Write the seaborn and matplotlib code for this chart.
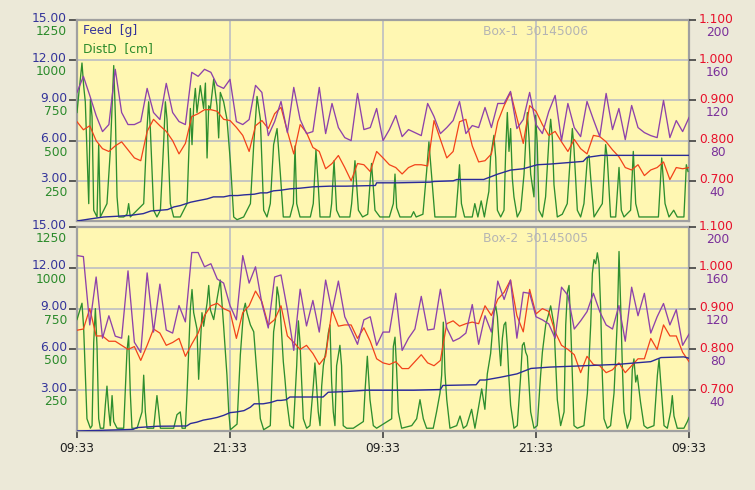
import numpy as np
import matplotlib
matplotlib.use('Agg')
import matplotlib.pyplot as plt
import matplotlib.transforms as mtrans
import seaborn as sns

plt.rcParams['font.family'] = ['DejaVu Sans']

# half-hour sampling grid for the ratio (purple) and red series
hours = np.arange(0, 48.01, 0.5)
xtick_hours = [0, 12, 24, 36, 48]
xtick_labels = ['09:33', '21:33', '09:33', '21:33', '09:33']

feed_ticks = [3, 6, 9, 12, 15]
feed_labels = ['3.00', '6.00', '9.00', '12.00', '15.00']
dist_ticks = [250, 500, 750, 1000, 1250]
red_ticks = [0.7, 0.8, 0.9, 1.0, 1.1]
red_labels = ['0.700', '0.800', '0.900', '1.000', '1.100']
purple_ticks = [40, 80, 120, 160, 200]

# ---------------- Box-1 ----------------
box1_purple = [128, 144, 125, 105, 89, 96, 151, 108, 96, 96, 99, 132, 108, 101, 137, 108, 99, 96,
               148, 144, 151, 148, 135, 132, 141, 99, 96, 101, 135, 128, 85, 99, 119,
               88, 133, 101, 87, 89, 133, 87, 117, 93, 83, 80, 127, 91, 93, 112, 80, 91, 105,
               84, 91, 88, 85, 117, 104, 87, 93, 100, 119, 87, 95, 93,
               113, 93, 117, 117, 129, 92, 101, 128, 96, 87, 109, 125, 80, 117, 93, 84, 119,
               101, 84, 127, 91, 112, 81, 115, 93, 88, 85, 83, 120, 83, 100, 89, 103]
box1_red = [0.847, 0.827, 0.837, 0.800, 0.780, 0.773, 0.787, 0.797, 0.777, 0.757, 0.750, 0.823,
            0.853, 0.837, 0.823, 0.800, 0.767, 0.793, 0.860, 0.867, 0.877, 0.877, 0.873, 0.853,
            0.850, 0.833, 0.813, 0.773, 0.837, 0.850, 0.830, 0.867, 0.883,
            0.823, 0.767, 0.840, 0.820, 0.783, 0.773, 0.730, 0.743, 0.763, 0.733, 0.700, 0.743,
            0.740, 0.723, 0.773, 0.757, 0.740, 0.733, 0.717, 0.733, 0.740, 0.740, 0.737, 0.850,
            0.803, 0.757, 0.773, 0.847, 0.853, 0.787, 0.747,
            0.750, 0.767, 0.847, 0.887, 0.920, 0.857, 0.793, 0.887, 0.873, 0.840, 0.813, 0.823,
            0.797, 0.773, 0.803, 0.780, 0.767, 0.813, 0.810, 0.797, 0.777, 0.760, 0.733, 0.727,
            0.740, 0.713, 0.727, 0.733, 0.747, 0.703, 0.733, 0.730, 0.733]
box1_dist_t = [0, 0.13, 0.39, 0.52, 0.65, 0.78, 0.92, 1.05, 1.18, 1.31, 1.57, 1.7, 1.83, 2.35, 2.61,
               2.88, 3.01, 3.14, 3.27, 3.66, 3.92, 4.05, 4.18, 5.23, 5.49, 5.62, 5.75, 6.01, 6.27,
               6.54, 6.8, 6.93, 7.06, 7.32, 7.58, 8.1, 8.63, 8.89, 9.02, 9.15, 9.28, 9.41, 9.67,
               9.93, 10.07, 10.2, 10.33, 10.46, 10.72, 10.98, 11.11, 11.24, 11.5, 11.76, 12.03,
               12.29, 12.55, 13.07, 13.6, 13.86, 14.12, 14.38, 14.51, 14.64, 14.9, 15.16, 15.42,
               15.69, 15.95, 16.18, 16.7, 16.97, 17.1, 17.23, 17.49, 18.3, 18.53, 18.74, 18.92,
               19.06, 19.84, 19.97, 20.16, 20.36, 20.6, 21.4, 21.54, 21.8, 22.07, 22.4, 22.8, 23.1,
               23.37, 23.76, 24.5, 24.81, 24.94, 25.07, 25.33, 26.2, 26.4, 26.6, 27.13, 27.42,
               27.6, 27.8, 28.07, 29.7, 29.88, 30.0, 30.15, 30.4, 31.0, 31.2, 31.44, 31.7, 31.95,
               32.18, 32.3, 32.44, 32.7, 32.84, 32.97, 33.23, 33.49, 33.62, 33.75, 33.88, 34.01,
               34.14, 34.27, 34.53, 34.8, 35.06, 35.19, 35.32, 35.45, 35.58, 35.84, 35.97, 36.1,
               36.23, 36.5, 36.75, 37.02, 37.15, 37.28, 37.41, 37.67, 38.06, 38.45, 38.72, 38.85,
               38.98, 39.24, 39.5, 39.76, 40.03, 40.16, 40.29, 40.55, 41.2, 41.46, 41.59, 41.85,
               42.25, 42.51, 42.69, 42.9, 43.42, 43.63, 43.82, 44.08, 45.6, 45.86, 46.12, 46.43,
               46.8, 47.08, 47.6, 47.79, 47.92]
box1_dist = [675, 783, 983, 842, 742, 433, 108, 758, 650, 67, 25, 475, 25, 108, 433,
             967, 650, 150, 25, 25, 42, 108, 25, 108, 575, 742, 575, 67, 25,
             67, 492, 742, 633, 108, 25, 25, 108, 700, 475, 717, 825, 675, 842,
             700, 858, 392, 717, 700, 883, 717, 517, 800, 742, 633, 367,
             25, 8, 25, 108, 475, 775, 633, 350, 67, 25, 108, 475,
             575, 292, 25, 25, 108, 467, 108, 25, 25, 108, 442, 225,
             25, 25, 108, 375, 67, 25, 25, 108, 375, 67, 25, 42, 358,
             67, 25, 25, 108, 292, 83, 25, 25, 58, 25, 42, 308,
             492, 292, 25, 25, 208, 350, 108, 25, 25, 108, 25, 125, 25,
             133, 183, 400, 533, 392, 67, 25, 67, 433, 675, 433, 575,
             267, 150, 25, 67, 292, 492, 675, 517, 292, 150, 658, 475,
             67, 25, 150, 517, 633, 517, 225, 25, 42, 108, 433, 575,
             450, 67, 25, 108, 392, 408, 267, 25, 108, 475, 392, 25,
             25, 333, 67, 25, 67, 433, 108, 25, 25, 392, 108, 25,
             67, 25, 25, 350, 308]
box1_feed_t = [0, 1.0, 2.1, 3.1, 4.2, 5.2, 5.8, 6.5, 7.1, 7.6, 8.1, 8.9, 9.4, 10.2, 10.7, 11.5,
               12.0, 12.6, 13.1, 13.9, 14.4, 14.9, 15.4, 16.0, 16.7, 17.5, 18.5, 19.8, 21.1,
               23.4, 23.5, 25.1, 27.7, 28.0, 29.5, 29.8, 31.9, 33.0, 34.0, 35.0, 36.1, 37.1,
               38.4, 39.7, 40.0, 41.1, 48.0]
box1_feed = [0.0, 0.15, 0.3, 0.35, 0.42, 0.55, 0.75, 0.8, 0.85, 1.05, 1.15, 1.4, 1.5, 1.65, 1.8,
             1.8, 1.9, 1.9, 1.95, 2.0, 2.1, 2.1, 2.25, 2.3, 2.4, 2.45, 2.55, 2.6, 2.6,
             2.65, 2.85, 2.85, 2.9, 2.95, 3.0, 3.1, 3.1, 3.5, 3.8, 3.9, 4.2, 4.25,
             4.35, 4.45, 4.75, 4.9, 4.9]

# ---------------- Box-2 ----------------
box2_purple = [172, 171, 104, 151, 91, 113, 93, 91, 157, 87, 77, 155, 97, 144, 99, 96, 123, 107,
               175, 175, 161, 164, 149, 145, 123, 109, 172, 145, 161, 125, 101, 151, 153,
               119, 79, 139, 103, 128, 97, 148, 117, 147, 112, 99, 85, 109, 112, 84, 97, 97,
               135, 79, 91, 100, 132, 99, 100, 139, 101, 88, 91, 96, 124, 85,
               113, 97, 147, 129, 148, 91, 136, 135, 112, 109, 105, 91, 141, 133, 100, 108, 117,
               135, 117, 104, 100, 123, 88, 141, 113, 135, 96, 112, 125, 104, 119, 84, 95]
box2_red = [0.847, 0.850, 0.900, 0.833, 0.833, 0.820, 0.820, 0.810, 0.800, 0.807, 0.773, 0.810,
            0.850, 0.840, 0.810, 0.817, 0.827, 0.783, 0.813, 0.840, 0.883, 0.907, 0.913, 0.900,
            0.893, 0.827, 0.890, 0.907, 0.943, 0.917, 0.860, 0.873, 0.907,
            0.833, 0.817, 0.800, 0.810, 0.790, 0.763, 0.783, 0.897, 0.857, 0.860, 0.860, 0.827,
            0.853, 0.820, 0.777, 0.767, 0.763, 0.770, 0.753, 0.753, 0.770, 0.787, 0.767, 0.760,
            0.773, 0.863, 0.870, 0.857, 0.863, 0.867, 0.863,
            0.907, 0.883, 0.923, 0.940, 0.970, 0.883, 0.843, 0.947, 0.887, 0.900, 0.893, 0.843,
            0.810, 0.800, 0.787, 0.743, 0.783, 0.763, 0.760, 0.743, 0.750, 0.767, 0.743, 0.760,
            0.777, 0.777, 0.827, 0.800, 0.860, 0.833, 0.833, 0.793, 0.770]
box2_dist_t = [0, 0.26, 0.39, 0.52, 0.65, 0.78, 1.05, 1.18, 1.31, 1.44, 1.57, 1.7, 1.83, 2.09,
               2.22, 2.35, 2.48, 2.61, 2.75, 2.88, 3.14, 3.66, 3.92, 4.05, 4.18, 4.31, 4.71, 5.1,
               5.23, 5.36, 5.49, 6.01, 6.27, 6.41, 6.54, 7.58, 7.84, 8.1, 8.24, 8.5, 8.63, 8.89,
               9.02, 9.15, 9.41, 9.54, 9.67, 9.8, 9.93, 10.2, 10.33, 10.46, 10.72, 10.98, 11.24,
               11.5, 11.76, 11.9, 12.03, 12.55, 12.81, 13.07, 13.2, 13.33, 13.6, 13.86, 14.12,
               14.38, 14.64, 15.16, 15.42, 15.56, 15.69, 15.82, 15.95, 16.18, 16.31, 16.44, 16.7,
               16.97, 17.23, 17.36, 17.49, 17.62, 17.75, 18.01, 18.27, 18.53, 18.66, 18.79, 18.92,
               19.06, 19.19, 19.32, 19.58, 19.71, 19.84, 19.97, 20.1, 20.23, 20.36, 20.62, 20.75,
               20.88, 21.15, 21.67, 22.46, 22.6, 22.77, 22.98, 23.24, 23.5, 24.68, 24.81, 24.94,
               25.07, 25.2, 25.46, 26.25, 26.64, 26.9, 27.16, 27.42, 27.94, 28.2, 28.47, 28.6,
               28.73, 28.86, 29.0, 29.25, 29.78, 30.04, 30.3, 30.56, 30.95, 31.21, 31.6, 31.74,
               31.99, 32.18, 32.44, 32.7, 32.84, 32.97, 33.1, 33.23, 33.36, 33.49, 33.62, 33.75,
               33.88, 34.01, 34.27, 34.53, 34.8, 34.93, 35.06, 35.19, 35.32, 35.58, 35.84, 36.1,
               36.36, 36.5, 36.76, 37.02, 37.15, 37.41, 37.67, 37.93, 38.2, 38.33, 38.46, 38.59,
               38.72, 38.85, 38.98, 39.24, 39.76, 40.03, 40.29, 40.42, 40.55, 40.68, 40.81, 40.94,
               41.07, 41.2, 41.33, 41.59, 41.85, 42.12, 42.38, 42.51, 42.64, 42.77, 42.9, 43.16,
               43.42, 43.55, 43.68, 43.82, 43.94, 44.2, 44.47, 44.73, 45.25, 45.52, 45.65, 45.78,
               46.04, 46.3, 46.56, 46.69, 46.82, 47.08, 47.6, 47.87, 48.0]
box2_dist = [683, 750, 783, 633, 350, 75, 17, 33, 542, 750, 517, 75, 17, 17,
             158, 275, 133, 33, 217, 58, 17, 17, 492, 583, 233, 17, 17, 117,
             342, 117, 17, 17, 217, 117, 17, 17, 100, 117, 17, 17, 233, 750,
             867, 725, 625, 317, 517, 725, 642, 783, 892, 742, 683, 808, 925,
             642, 342, 117, 8, 42, 467, 742, 783, 725, 650, 608, 342,
             75, 8, 33, 608, 683, 883, 825, 725, 425, 317, 192, 33,
             17, 400, 675, 542, 300, 75, 17, 33, 275, 417, 275, 117,
             33, 275, 400, 517, 600, 650, 300, 117, 33, 400, 525, 400,
             33, 17, 17, 58, 258, 458, 192, 33, 17, 75, 517, 575,
             375, 117, 17, 33, 75, 192, 75, 17, 17, 117, 233, 342,
             667, 358, 192, 17, 33, 92, 17, 33, 133, 17, 192, 258,
             133, 350, 475, 725, 767, 700, 542, 400, 567, 650, 667, 525,
             317, 158, 17, 33, 342, 525, 542, 483, 458, 117, 17, 33,
             342, 483, 650, 725, 767, 650, 192, 33, 117, 650, 850, 892,
             650, 342, 33, 17, 33, 233, 650, 967, 1050, 1025, 1092, 1025,
             750, 342, 75, 17, 33, 233, 683, 1100, 767, 400, 117, 17,
             75, 375, 442, 300, 342, 175, 33, 17, 33, 342, 442, 300,
             33, 17, 117, 217, 92, 17, 17, 58, 83]
box2_feed_t = [0, 2.6, 4.4, 4.7, 6.3, 8.6, 8.9, 9.4, 9.9, 10.5, 11.0, 11.5, 12.0, 12.5, 13.1,
               13.6, 13.9, 14.6, 15.2, 15.7, 16.0, 16.4, 16.7, 19.3, 19.7, 21.1, 22.7, 26.4,
               28.5, 28.7, 31.3, 31.6, 32.0, 33.2, 34.5, 35.6, 37.1, 39.8, 42.4, 43.7, 45.0,
               45.8, 47.6, 48.0]
box2_feed = [0.0, 0.07, 0.12, 0.25, 0.35, 0.37, 0.55, 0.65, 0.8, 0.9, 1.0, 1.15, 1.35, 1.4, 1.5,
             1.75, 2.0, 2.0, 2.1, 2.25, 2.25, 2.3, 2.5, 2.5, 2.85, 2.9, 3.0, 3.0,
             3.05, 3.35, 3.4, 3.75, 3.75, 3.95, 4.2, 4.6, 4.7, 4.8, 4.9, 5.0, 5.1,
             5.4, 5.45, 5.35]

BG = '#ECE9D8'
PANEL = '#FFF7B2'
C_FEED = '#2B2B98'
C_DIST = '#2E8E2E'
C_RED = '#F2421A'
C_PURP = '#8E42AA'
LAB_FEED = '#34349A'
LAB_DIST = '#2A8A2A'
LAB_RED = '#E8102A'
LAB_PURP = '#7A2F9A'
FS = 8.8

fig = plt.figure(figsize=(7.55, 4.90), dpi=100, facecolor=BG)


def shift_labels(axis, dy_px):
    off = mtrans.ScaledTranslation(0, dy_px / 100.0, fig.dpi_scale_trans)
    for lab in axis.get_majorticklabels():
        lab.set_transform(lab.get_transform() + off)


def draw_panel(rect, title, feed_t, feed, dist_t, dist, purple, red, bottom, legend):
    ax = fig.add_axes(rect)
    ax.set_facecolor(PANEL)
    ax_d = ax.twinx()
    ax_r = ax.twinx()
    ax_p = ax.twinx()
    ax_f = ax.twinx()
    twins = [ax_d, ax_r, ax_p, ax_f]

    sns.lineplot(x=dist_t, y=dist, ax=ax_d, color=C_DIST, linewidth=0.95, estimator=None, sort=False)
    sns.lineplot(x=hours, y=red, ax=ax_r, color=C_RED, linewidth=0.9, estimator=None, sort=False)
    sns.lineplot(x=hours, y=purple, ax=ax_p, color=C_PURP, linewidth=0.95, estimator=None, sort=False)
    sns.lineplot(x=feed_t, y=feed, ax=ax_f, color=C_FEED, linewidth=1.0, estimator=None, sort=False)

    ax.set_xlim(0, 48)
    ax.set_ylim(0, 15)
    ax_f.set_ylim(0, 15)
    ax_d.set_ylim(0, 1250)
    ax_r.set_ylim(0.6, 1.1)
    ax_p.set_ylim(0, 200)
    for a in twins + [ax]:
        a.set_xlabel('')
        a.set_ylabel('')
    for a in twins:
        for s in a.spines.values():
            s.set_visible(False)
        a.tick_params(axis='x', length=0, labelbottom=False)

    ax.set_xticks(xtick_hours)
    ax.grid(True, color='#C2C2C2', linewidth=1.3)
    ax.set_axisbelow(True)
    for s in ax.spines.values():
        s.set_color('#A0A0A0')
        s.set_linewidth(1.6)

    # left: feed (blue) and distance (green)
    ax.yaxis.tick_left()
    ax.set_yticks(feed_ticks, labels=feed_labels)
    ax.tick_params(axis='y', length=5.8, width=1.2, color='#404040', pad=1.4,
                   labelsize=FS, labelcolor=LAB_FEED)
    ax_d.yaxis.tick_left()
    ax_d.set_yticks(dist_ticks, labels=[str(v) for v in dist_ticks])
    ax_d.tick_params(axis='y', length=0, pad=7.2, labelsize=FS, labelcolor=LAB_DIST)
    # right: red and purple
    ax_r.yaxis.tick_right()
    ax_r.set_yticks(red_ticks, labels=red_labels)
    ax_r.tick_params(axis='y', length=5, width=1.2, color='#404040', pad=2.2,
                     labelsize=FS, labelcolor=LAB_RED)
    ax_p.yaxis.tick_right()
    ax_p.set_yticks(purple_ticks, labels=[str(v) for v in purple_ticks])
    ax_p.tick_params(axis='y', length=0, pad=20.5, labelsize=FS, labelcolor=LAB_PURP)
    for lab in ax_p.get_yticklabels():
        lab.set_ha('center')
    ax_f.set_yticks([])

    if bottom:
        ax.set_xticks(xtick_hours, labels=xtick_labels)
        ax.tick_params(axis='x', length=5, width=1.2, color='#404040', pad=3,
                       labelsize=FS, labelcolor='#202020')
    else:
        ax.tick_params(axis='x', length=0, labelbottom=False)

    ax.text(0.835, 0.945, title, transform=ax.transAxes, ha='right', va='center',
            fontsize=FS, color='#B4B4B4')
    if legend:
        ax.text(0.009, 0.948, 'Feed  [g]', transform=ax.transAxes, ha='left', va='center',
                fontsize=FS, color=LAB_FEED)
        ax.text(0.009, 0.857, 'DistD  [cm]', transform=ax.transAxes, ha='left', va='center',
                fontsize=FS, color=LAB_DIST)

    shift_labels(ax.yaxis, 3.5)
    shift_labels(ax_d.yaxis, -10)
    shift_labels(ax_r.yaxis, 2.5)
    shift_labels(ax_p.yaxis, -10.5)
    return ax


draw_panel([0.102, 0.549, 0.8106, 0.410], 'Box-1  30145006', box1_feed_t, box1_feed,
           box1_dist_t, box1_dist, box1_purple, box1_red, bottom=False, legend=True)
draw_panel([0.102, 0.1204, 0.8106, 0.4163], 'Box-2  30145005', box2_feed_t, box2_feed,
           box2_dist_t, box2_dist, box2_purple, box2_red, bottom=True, legend=False)

fig.savefig('out.png', dpi=100, facecolor=BG)
